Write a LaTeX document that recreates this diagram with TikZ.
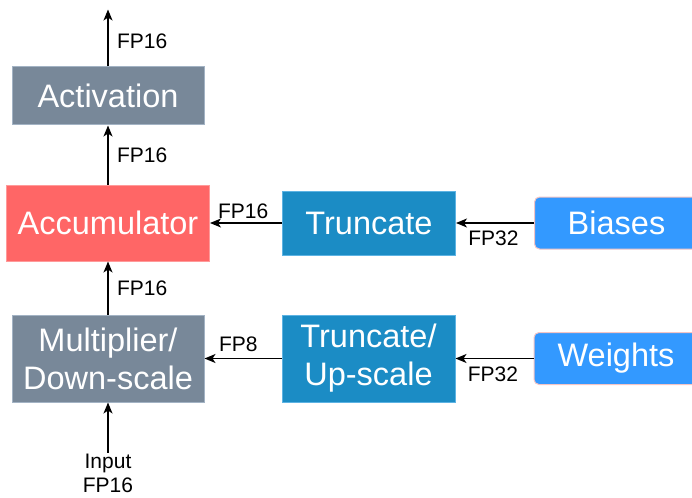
\documentclass[tikz,border=0pt]{standalone}
\usepackage{fontspec}
\setmainfont{Liberation Sans}
\usetikzlibrary{arrows.meta, positioning}
\definecolor{stagegray}{HTML}{788899}
\definecolor{stagegrayline}{HTML}{A3B3C4}
\definecolor{accumred}{HTML}{FF6666}
\definecolor{accumredline}{HTML}{FF9A9A}
\definecolor{truncblue}{HTML}{1B8CC5}
\definecolor{truncblueline}{HTML}{5DB3E3}
\definecolor{sourceblue}{HTML}{3399FF}
\definecolor{sourceblueline}{HTML}{F4C4C4}

\begin{document}
\begin{tikzpicture}[
        stagebox/.style={
            draw=stagegrayline,
            line width=1pt,
            fill=stagegray,
            text=white,
            align=center,
            minimum width=192pt,
            font=\fontsize{32.5}{38}\selectfont
        },
        truncbox/.style={
            stagebox,
            draw=truncblueline,
            fill=truncblue,
            minimum width=173pt
        },
        sourcebox/.style={
            stagebox,
            draw=sourceblueline,
            fill=sourceblue,
            rounded corners=5pt,
            minimum width=164pt,
            minimum height=52pt
        },
        datalink/.style={-{Stealth[length=11pt, width=9pt, inset=3pt]}, line width=1.5pt, black},
        typelabel/.style={font=\fontsize{21}{24}\selectfont, text=black}
    ]
        \useasboundingbox (0pt,0pt) rectangle (692pt,-497pt);

        \node[stagebox, minimum height=87pt] (multiplier) at (108pt,-358.5pt) {Multiplier/\\Down-scale};
        \node[stagebox, fill=accumred, draw=accumredline, minimum width=203pt, minimum height=76pt,
            above=53pt of multiplier] (accumulator) {Accumulator};
        \node[stagebox, minimum height=58pt, above=59pt of accumulator] (activation) {Activation};
        \coordinate[above=57pt of activation] (output);

        \node[truncbox, minimum height=64pt, right=72pt of accumulator] (truncate) {Truncate};
        \node[truncbox, minimum height=87pt, right=77pt of multiplier] (upscale) {Truncate/\\Up-scale};
        \node[sourcebox, right=78pt of truncate] (biases) {Biases};
        \node[sourcebox, right=78pt of upscale] (weights) {Weights};

        \node[typelabel, align=center, inner sep=1pt, below=50pt of multiplier] (input) {Input\\FP16};

        \draw[datalink] (activation) -- node[typelabel, pos=0.45, right=5pt] {FP16} (output);
        \draw[datalink] (accumulator) -- node[typelabel, right=5pt] {FP16} (activation);
        \draw[datalink] (multiplier) -- node[typelabel, right=5pt] {FP16} (accumulator);
        \draw[datalink] (input) -- (multiplier);

        \draw[datalink] (truncate) -- node[typelabel, pos=0.54, above] {FP16} (accumulator);
        \draw[datalink] (upscale) -- node[typelabel, pos=0.56, above=3pt] {FP8} (multiplier);
        \draw[datalink] (biases) -- node[typelabel, pos=0.52, below=4pt] {FP32} (truncate);
        \draw[datalink] (weights) -- node[typelabel, pos=0.52, below=4pt] {FP32} (upscale);
    \end{tikzpicture}
\end{document}
